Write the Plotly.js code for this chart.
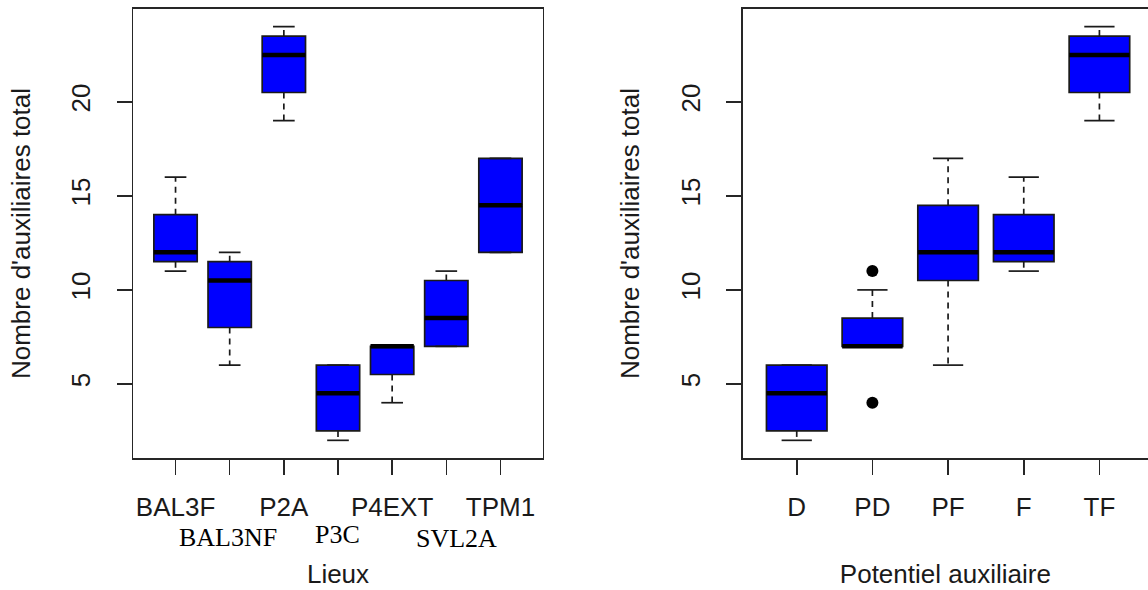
<!DOCTYPE html>
<html>
<head>
<meta charset="utf-8">
<script src="https://cdn.plot.ly/plotly-3.0.1.min.js"></script>
<style>
html,body{margin:0;padding:0;background:#fff;}
#chart{width:1148px;height:590px;}
</style>
</head>
<body>
<div id="chart"></div>
<script>
// ---- Data: left panel (Lieux) ----
var lieux     = ['BAL3F', 'BAL3NF', 'P2A', 'P3C', 'P4EXT', 'SVL2A', 'TPM1'];
var lieuxMin  = [11,   6,    19,   2,   4,   7,    12];
var lieuxQ1   = [11.5, 8,    20.5, 2.5, 5.5, 7,    12];
var lieuxMed  = [12,   10.5, 22.5, 4.5, 7,   8.5,  14.5];
var lieuxQ3   = [14,   11.5, 23.5, 6,   7,   10.5, 17];
var lieuxMax  = [16,   12,   24,   6,   7,   11,   17];

// ---- Data: right panel (Potentiel auxiliaire) ----
var potentiel = ['D', 'PD', 'PF', 'F', 'TF'];
var potMin    = [2,   7,   6,    11,   19];
var potQ1     = [2.5, 7,   10.5, 11.5, 20.5];
var potMed    = [4.5, 7,   12,   12,   22.5];
var potQ3     = [6,   8.5, 14.5, 14,   23.5];
var potMax    = [6,   10,  17,   16,   24];
var potOutCat = ['PD', 'PD'];
var potOutVal = [11, 4];

var yTicks = [5, 10, 15, 20];
var yTitle = "Nombre d'auxiliaires total";

// ---- Styles ----
var BLUE = '#0000FF', INK = '#1a1a1a', FRAME = '#262626';
var SANS = 'Liberation Sans, Arial, sans-serif';
var SERIF = 'Liberation Serif, Times New Roman, serif';
var BOXW = 0.8, STAPLE = 0.2;

function boxTraces(cats, mn, q1, med, q3, mx, xa, ya) {
  var pos = cats.map(function(c, i){ return i + 1; });
  var wx = [], wy = [], sx = [], sy = [], mxs = [], mys = [];
  for (var i = 0; i < pos.length; i++) {
    var p = pos[i];
    wx.push(p, p, null, p, p, null);
    wy.push(q3[i], mx[i], null, q1[i], mn[i], null);
    sx.push(p - STAPLE, p + STAPLE, null, p - STAPLE, p + STAPLE, null);
    sy.push(mx[i], mx[i], null, mn[i], mn[i], null);
    mxs.push(p - BOXW / 2, p + BOXW / 2, null);
    mys.push(med[i], med[i], null);
  }
  return [
    {type:'scatter', mode:'lines', x:wx, y:wy, xaxis:xa, yaxis:ya,
     line:{color:INK, width:1.7, dash:'6px,5px'}, hoverinfo:'skip', showlegend:false},
    {type:'scatter', mode:'lines', x:sx, y:sy, xaxis:xa, yaxis:ya,
     line:{color:INK, width:1.7}, hoverinfo:'skip', showlegend:false},
    {type:'box', x:pos, q1:q1, median:med, q3:q3, lowerfence:q1, upperfence:q3,
     width:BOXW, whiskerwidth:0, fillcolor:BLUE, line:{color:INK, width:1.7},
     xaxis:xa, yaxis:ya, hoverinfo:'skip', showlegend:false, boxpoints:false},
    {type:'scatter', mode:'lines', x:mxs, y:mys, xaxis:xa, yaxis:ya,
     line:{color:'#000', width:4.5}, hoverinfo:'skip', showlegend:false}
  ];
}

var traces = [];
traces = traces.concat(boxTraces(lieux, lieuxMin, lieuxQ1, lieuxMed, lieuxQ3, lieuxMax, 'x', 'y'));
traces = traces.concat(boxTraces(potentiel, potMin, potQ1, potMed, potQ3, potMax, 'x2', 'y2'));
traces.push({
  type:'scatter', mode:'markers', xaxis:'x2', yaxis:'y2',
  x: potOutCat.map(function(c){ return potentiel.indexOf(c) + 1; }),
  y: potOutVal,
  marker:{color:'#000', size:12, symbol:'circle'}, hoverinfo:'skip', showlegend:false
});

// Left axis tick labels: odd positions on the axis; even ones as serif text below
var lieuxTickText = lieux.map(function(c, i){ return (i % 2 === 0) ? c : ''; });
var serifXShift = [-2, -1, 10];
var serifYShift = [0, 3, -1];
var annotations = [];
var k = 0;
lieux.forEach(function(c, i){
  if (i % 2 === 1) {
    annotations.push({
      xref:'x', yref:'paper', x:i + 1, y:-0.178, text:c, showarrow:false,
      xanchor:'center', yanchor:'middle', xshift:serifXShift[k], yshift:serifYShift[k],
      font:{family:SERIF, size:26, color:'#000'}
    });
    k++;
  }
});

function xAxis(domain, range, vals, text) {
  return {
    domain:domain, range:range, tickmode:'array', tickvals:vals, ticktext:text,
    ticks:'outside', ticklen:15, tickwidth:1.6, tickcolor:FRAME,
    showline:true, linecolor:FRAME, linewidth:1.6, mirror:true,
    showgrid:false, zeroline:false, ticklabelstandoff:10,
    tickfont:{family:SANS, size:26, color:INK}, fixedrange:true
  };
}
function yAxis(anchor, mirror) {
  return {
    anchor:anchor, range:[1.06, 24.94], tickmode:'array', tickvals:yTicks,
    ticktext:yTicks.map(String), tickangle:-90,
    ticks:'outside', ticklen:15, tickwidth:1.6, tickcolor:FRAME,
    showline:true, linecolor:FRAME, linewidth:1.6, mirror:mirror,
    showgrid:false, zeroline:false, ticklabelstandoff:16,
    tickfont:{family:SANS, size:26, color:INK}, fixedrange:true,
    title:{text:yTitle, font:{family:SANS, size:26, color:INK}, standoff:28}
  };
}

var xa1 = xAxis([133.3/1148, 542.7/1148], [0.22, 7.78],
                lieux.map(function(c,i){return i+1;}), lieuxTickText);
xa1.title = {text:'Lieux', font:{family:SANS, size:26, color:INK}, standoff:44};
var xa2 = xAxis([742.7/1148, 1], [0.286, 5.642],
                potentiel.map(function(c,i){return i+1;}), potentiel);
xa2.title = {text:'Potentiel auxiliaire', font:{family:SANS, size:26, color:INK}, standoff:44};
xa2.anchor = 'y2';
xa1.anchor = 'y';

var layout = {
  width:1148, height:590,
  margin:{l:0, r:0, t:9, b:132, pad:0},
  paper_bgcolor:'#fff', plot_bgcolor:'#fff',
  showlegend:false,
  xaxis:xa1, yaxis:yAxis('x', true),
  xaxis2:xa2, yaxis2:yAxis('x2', false),
  annotations:annotations
};

Plotly.newPlot('chart', traces, layout, {displayModeBar:false, staticPlot:true});
</script>
</body>
</html>
